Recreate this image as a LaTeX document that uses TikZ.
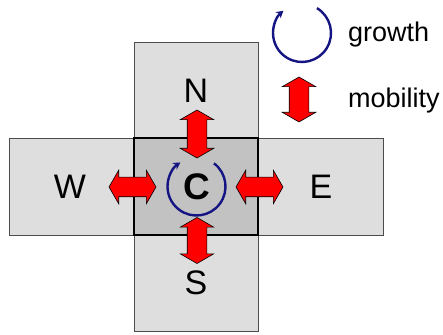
\documentclass[tikz,border=0pt]{standalone}
\usepackage{fontspec}
\setmainfont{Liberation Sans}
\usetikzlibrary{shapes.arrows,arrows.meta}
\definecolor{growthblue}{RGB}{20,20,130}
\begin{document}
\begin{tikzpicture}[x=1pt, y=1pt,
    bar/.style={draw=black!70, line width=0.8pt, fill=black!13, minimum width=#1},
    cell/.style={draw=black, line width=2.6pt, fill=black!24, minimum width=124pt, minimum height=97pt},
    lbl/.style={font=\fontsize{34}{40}\selectfont, inner sep=0pt},
    mob/.style={double arrow, draw=black, line width=0.6pt, fill=red, inner xsep=0pt, inner ysep=9.5pt,
                double arrow head extend=7pt, double arrow tip angle=120, minimum height=#1},
    growarc/.style={->, >={Stealth[length=7pt,width=8pt]}, line width=2.4pt, growthblue},
    leg/.style={font=\fontsize{27}{32}\selectfont, anchor=base west, inner sep=0pt},
]
\useasboundingbox (0,0) rectangle (443,334);
% neighbourhood
\node[bar=124pt, minimum height=289pt] (vb) at (196,147.5) {};
\node[bar=374pt, minimum height=97pt]  (hb) at (196,147.5) {};
\node[cell] (c) at (196,147.5) {};
\node[lbl] (n) at (196,243)  {N};
\node[lbl] (s) at (196,51)   {S};
\node[lbl] (w) at (70,147.5) {W};
\node[lbl] (e) at (321,147.5) {E};
\node[lbl, font=\fontsize{37}{42}\selectfont\bfseries] (cc) at (196.5,147.5) {C};
% mobility arrows
\node[mob=48pt, rotate=90] (an) at (197,200)    {};
\node[mob=46pt, rotate=90] (as) at (197,93.5)   {};
\node[mob=47pt] (aw) at (132.5,147)  {};
\node[mob=47pt] (ae) at (259.5,147)  {};
\draw[growarc] (cc.center) ++(53:29) arc[start angle=53, end angle=-236, radius=29];
% legend
\draw[growarc] (302,301) ++(59:29) arc[start angle=59, end angle=-230, radius=29];
\node[leg] (tg) at (348,292) {growth};
\node[mob=45pt, rotate=90] (am) at (299,234.5) {};
\node[leg] (tm) at (348,226) {mobility};
\end{tikzpicture}
\end{document}
